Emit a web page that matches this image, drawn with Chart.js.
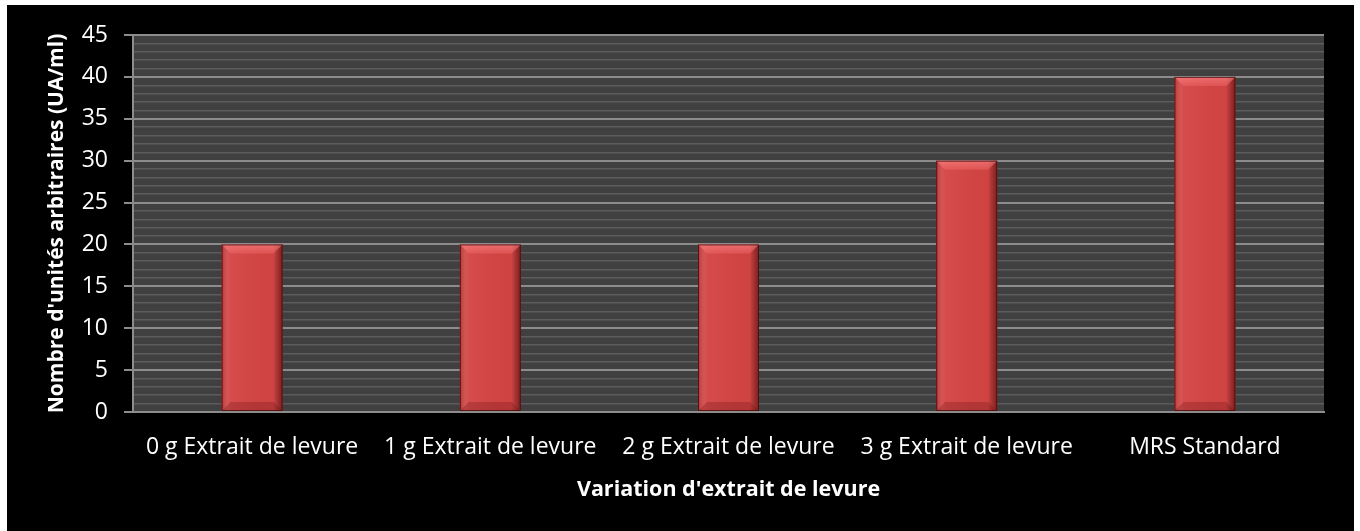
<!DOCTYPE html>
<html>
<head>
<meta charset="utf-8">
<script src="https://cdn.jsdelivr.net/npm/chart.js@4.4.1/dist/chart.umd.min.js"></script>
<style>
    html, body { margin: 0; padding: 0; background: #ffffff; }
    #box { position: absolute; left: 7px; top: 5px; width: 1347px; height: 526px; background: #000000; }
</style>
</head>
<body>
<div id="box"><canvas id="barChart" width="1347" height="526"></canvas></div>
<script>
var categories = ["0 g Extrait de levure", "1 g Extrait de levure", "2 g Extrait de levure", "3 g Extrait de levure", "MRS Standard"];
var values = [20, 20, 20, 30, 40];
var yMin = 0;
var yMax = 45;
var yMajorStep = 5;

var fontFamily = "'Open Sans', 'Noto Sans', sans-serif";

// gray plot background
var plotBackground = {
    id: 'plotBackground',
    beforeDraw: function (chart) {
        var a = chart.chartArea;
        var ctx = chart.ctx;
        ctx.save();
        ctx.fillStyle = '#404040';
        ctx.fillRect(a.left, a.top, a.right - a.left, a.bottom - a.top);
        ctx.restore();
    }
};

// bevel shading on each bar, using the bar elements' own geometry
var barBevel = {
    id: 'barBevel',
    afterDatasetsDraw: function (chart) {
        var ctx = chart.ctx;
        chart.getDatasetMeta(0).data.forEach(function (bar) {
            var left = bar.x - bar.width / 2;
            var right = bar.x + bar.width / 2;
            var top = bar.y;
            var bottom = bar.base;
            var b = 9;
            ctx.save();
            // side shading
            var g = ctx.createLinearGradient(left, 0, right, 0);
            g.addColorStop(0, 'rgba(120,20,20,0.35)');
            g.addColorStop(0.15, 'rgba(255,255,255,0.04)');
            g.addColorStop(0.85, 'rgba(0,0,0,0.02)');
            g.addColorStop(1, 'rgba(60,0,0,0.55)');
            ctx.fillStyle = g;
            ctx.fillRect(left, top, right - left, bottom - top);
            // top bevel
            ctx.beginPath();
            ctx.moveTo(left, top);
            ctx.lineTo(right, top);
            ctx.lineTo(right - b, top + b);
            ctx.lineTo(left + b, top + b);
            ctx.closePath();
            var gt = ctx.createLinearGradient(0, top, 0, top + b);
            gt.addColorStop(0, 'rgba(255,140,140,0.6)');
            gt.addColorStop(1, 'rgba(255,120,120,0.3)');
            ctx.fillStyle = gt;
            ctx.fill();
            // bottom bevel
            ctx.beginPath();
            ctx.moveTo(left, bottom);
            ctx.lineTo(right, bottom);
            ctx.lineTo(right - b, bottom - b);
            ctx.lineTo(left + b, bottom - b);
            ctx.closePath();
            ctx.fillStyle = 'rgba(90,10,10,0.25)';
            ctx.fill();
            // outline
            ctx.strokeStyle = 'rgba(70,10,10,0.8)';
            ctx.lineWidth = 1;
            ctx.strokeRect(left + 0.5, top + 0.5, right - left - 1, bottom - top - 1);
            ctx.restore();
        });
    }
};

var ctx = document.getElementById('barChart').getContext('2d');
var barChart = new Chart(ctx, {
    type: 'bar',
    data: {
        labels: categories,
        datasets: [{
            label: 'UA/ml',
            data: values,
            backgroundColor: '#d44444',
            borderWidth: 0,
            barPercentage: 0.256,
            categoryPercentage: 1
        }]
    },
    options: {
        responsive: false,
        animation: false,
        layout: { padding: { left: 0, top: 30, right: 30, bottom: 0 } },
        plugins: {
            legend: { display: false },
            tooltip: { enabled: false }
        },
        scales: {
            x: {
                grid: { display: false, drawTicks: false },
                border: { display: true, color: '#8c8c8c', width: 2 },
                ticks: {
                    color: '#ffffff',
                    padding: 22,
                    maxRotation: 0,
                    autoSkip: false,
                    font: { family: fontFamily, size: 23 }
                },
                title: {
                    display: true,
                    text: "Variation d'extrait de levure",
                    color: '#ffffff',
                    padding: { top: 0, bottom: 28 },
                    font: { family: fontFamily, size: 21.5, weight: 'bold' }
                },
                afterFit: function (scale) { scale.height = 119; }
            },
            y: {
                min: yMin,
                max: yMax,
                border: { display: true, color: '#8c8c8c', width: 2 },
                grid: {
                    color: function (c) {
                        return c.tick && c.tick.value % yMajorStep === 0 ? '#8c8c8c' : '#5c5c5c';
                    },
                    lineWidth: function (c) {
                        return c.tick && c.tick.value % yMajorStep === 0 ? 2 : 1.5;
                    },
                    tickColor: function (c) {
                        return c.tick && c.tick.value % yMajorStep === 0 ? '#8c8c8c' : 'rgba(0,0,0,0)';
                    },
                    tickLength: 9
                },
                ticks: {
                    stepSize: 1,
                    autoSkip: false,
                    color: '#ffffff',
                    padding: 16,
                    font: { family: fontFamily, size: 23 },
                    callback: function (v) { return v % yMajorStep === 0 ? v : ''; }
                },
                title: {
                    display: true,
                    text: "Nombre d'unités arbitraires (UA/ml)",
                    color: '#ffffff',
                    padding: { top: 37, bottom: 0 },
                    font: { family: fontFamily, size: 21, weight: 'bold' }
                },
                afterFit: function (scale) { scale.width = 126; }
            }
        }
    },
    plugins: [plotBackground, barBevel]
});
</script>
</body>
</html>
